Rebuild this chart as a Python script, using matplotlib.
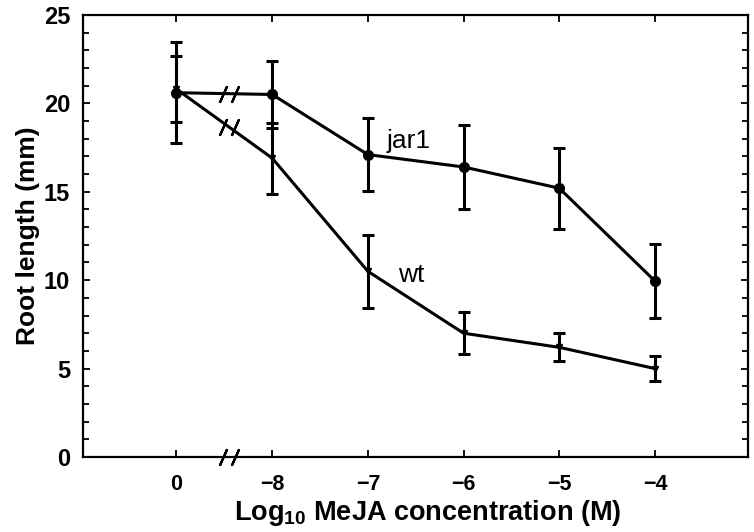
import numpy as np
import matplotlib
matplotlib.use('Agg')
import matplotlib.pyplot as plt
from matplotlib.ticker import MultipleLocator

plt.rcParams['font.family'] = ['Liberation Sans', 'DejaVu Sans']
plt.rcParams['mathtext.fontset'] = 'custom'
plt.rcParams['mathtext.rm'] = 'Liberation Sans:bold'
plt.rcParams['mathtext.bf'] = 'Liberation Sans:bold'
plt.rcParams['mathtext.it'] = 'Liberation Sans:bold'

# data (root length, mm) vs log10 MeJA concentration
conc_labels = ['0', '\u22128', '\u22127', '\u22126', '\u22125', '\u22124']
jar1_mean = [20.6, 20.5, 17.1, 16.4, 15.2, 9.95]
jar1_err = [2.85, 1.9, 2.05, 2.4, 2.3, 2.1]
wt_mean = [20.8, 16.9, 10.5, 7.0, 6.2, 5.0]
wt_err = [1.85, 2.0, 2.05, 1.2, 0.8, 0.7]

pos = np.arange(len(conc_labels))
brk = 0.55  # where the axis is broken between 0 and -8

fig = plt.figure(figsize=(7.54, 5.32), dpi=100)
ax = fig.add_axes([0.1097, 0.141, 0.8827, 0.831])

ax.errorbar(pos, jar1_mean, yerr=jar1_err, color='k', lw=2.2, marker='o', ms=7,
            elinewidth=2.2, capsize=4.5, capthick=2.2)
ax.errorbar(pos, wt_mean, yerr=wt_err, color='k', lw=2.2, marker='v', ms=5,
            elinewidth=2.2, capsize=4.5, capthick=2.2)

# break marks on the lines and on the x axis
dx = 0.063
for m in [jar1_mean, wt_mean]:
    yb = np.interp(brk, pos, m)
    ax.plot([brk - dx, brk + dx], [yb, yb], ls='none', marker=(2, 2, -24),
            ms=13, mew=1.6, color='k')
ax.plot([brk - dx, brk + dx], [0, 0], ls='none', marker=(2, 2, -24),
        ms=13, mew=1.6, color='k', clip_on=False)

ax.text(2.2, 17.48, 'jar1', fontsize=19)
ax.text(2.31, 9.92, 'wt', fontsize=19)

ax.set_xlim(-0.98, 5.975)
ax.set_ylim(0, 25)
ax.set_xticks(pos)
ax.set_xticklabels(conc_labels)
ax.yaxis.set_major_locator(MultipleLocator(5))
ax.yaxis.set_minor_locator(MultipleLocator(1))
ax.tick_params(axis='both', which='both', direction='in', top=True, right=True,
               width=1.3)
ax.tick_params(axis='both', which='major', length=5)
ax.tick_params(axis='y', which='minor', length=4)
ax.tick_params(axis='y', pad=9, labelsize=17)
ax.tick_params(axis='x', pad=12, labelsize=15.5)
for lab in ax.get_xticklabels() + ax.get_yticklabels():
    lab.set_fontweight('bold')
for s in ax.spines.values():
    s.set_linewidth(1.6)

ax.set_ylabel('Root length (mm)', fontsize=19, fontweight='bold')
ax.set_xlabel('Log$_{10}$ MeJA concentration (M)', fontsize=19.5, fontweight='bold')
ax.yaxis.set_label_coords(-0.064, 0.5)
ax.xaxis.set_label_coords(0.519, -0.093)

plt.savefig('out.png', dpi=100)
